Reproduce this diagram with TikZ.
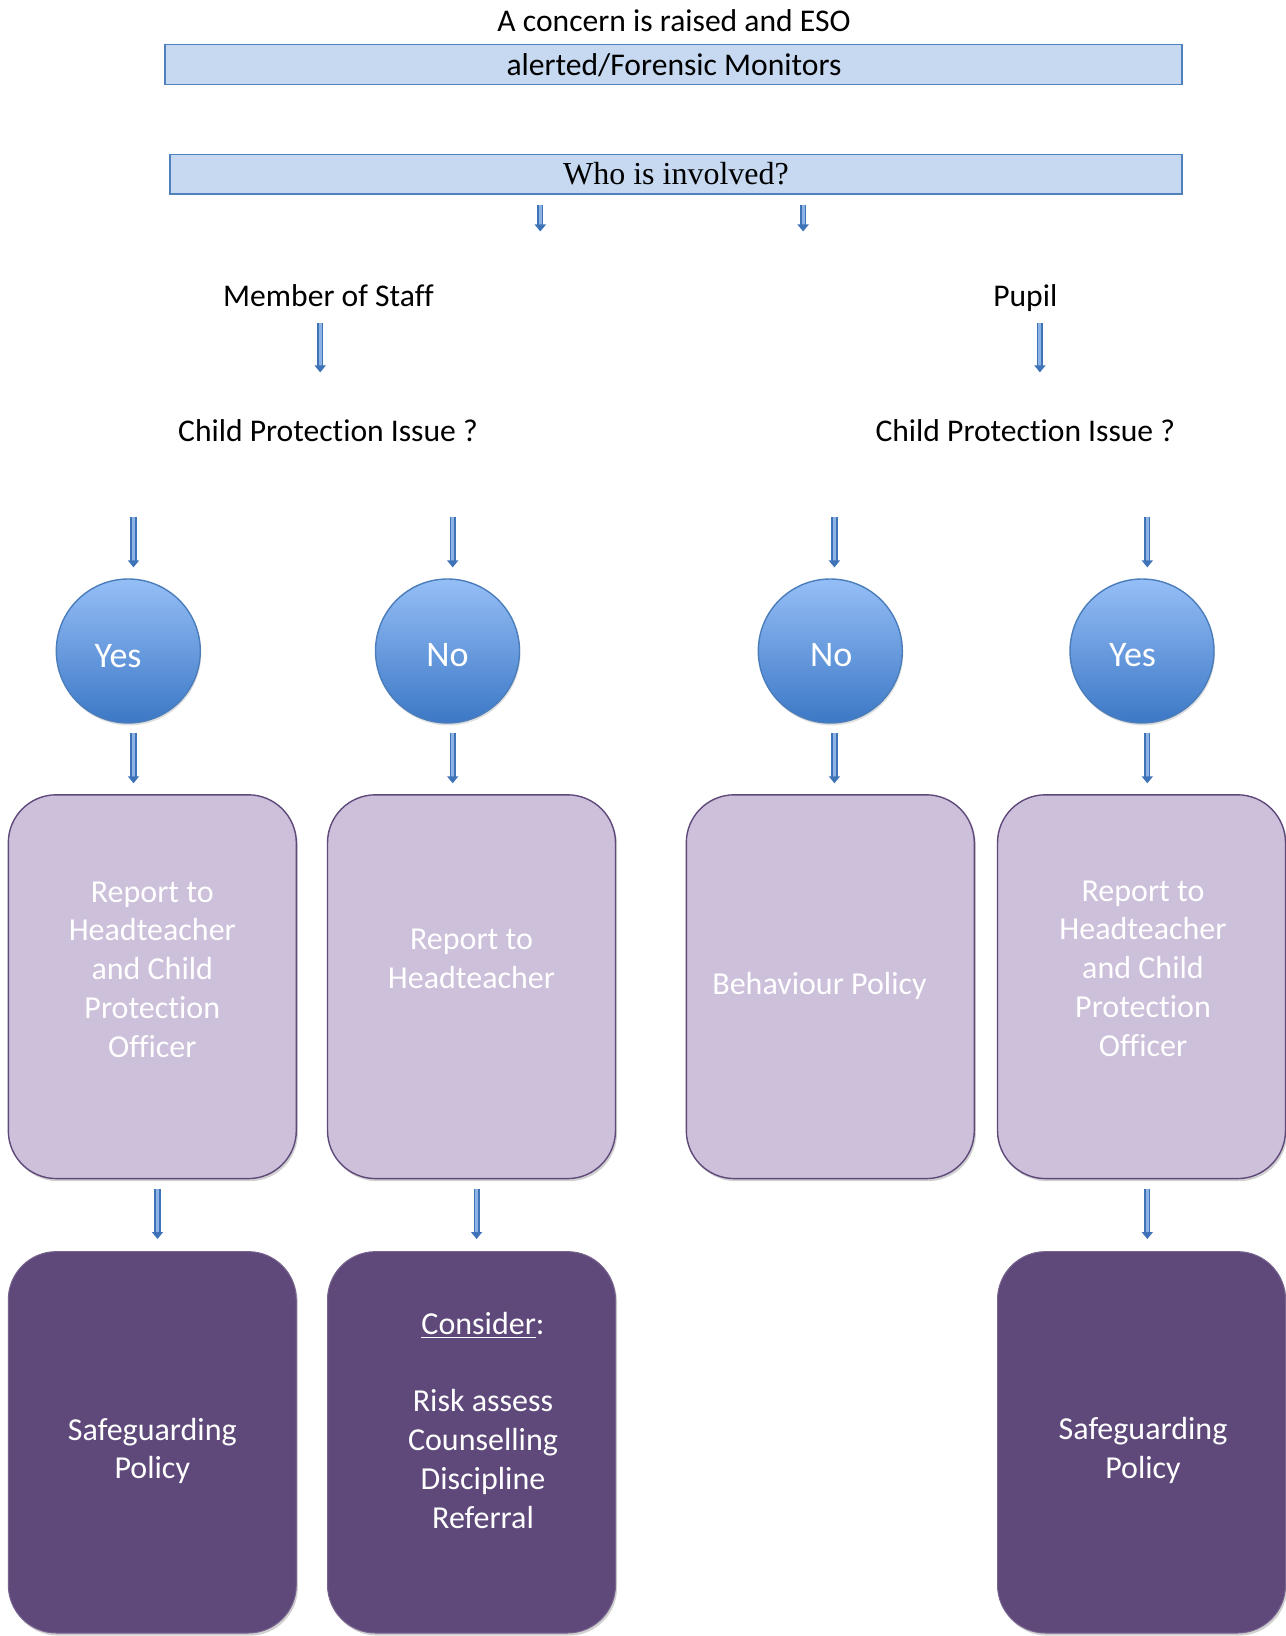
\documentclass[tikz,border=0pt]{standalone}
\usepackage{fontspec}
\setmainfont[Ligatures={NoCommon}]{Carlito}
\newfontfamily\timesf{Liberation Serif}
\usetikzlibrary{arrows.meta,shadows}
\definecolor{boxblue}{HTML}{C6D9F1}
\definecolor{lineblue}{HTML}{4F81BD}
\definecolor{lightpurple}{HTML}{CCC0DA}
\definecolor{purpleline}{HTML}{5F497A}
\definecolor{darkpurple}{HTML}{5F497A}
\definecolor{circtop}{HTML}{95BEF6}
\definecolor{circbot}{HTML}{3C78C6}
\definecolor{circline}{HTML}{4A7DBA}
\definecolor{arrdark}{HTML}{3F73B8}
\definecolor{arrlight}{HTML}{8DB3E6}
\newcommand\vflow[4]{\coordinate (#1s) at (#2,#3); \coordinate (#1e) at (#2,#4); \draw[barr] (#1s) -- (#1e);}
\begin{document}
\begin{tikzpicture}[x=0.5pt,y=-0.5pt,
  every node/.style={inner sep=0pt, outer sep=0pt},
  topbox/.style={draw=lineblue, line width=0.7pt, fill=boxblue, minimum height=19.9pt},
  plain/.style={font=\fontsize{15.8}{19.3}\selectfont, text=black, text height=11.5pt, text depth=3.3pt},
  lightbox/.style={draw=purpleline, line width=0.7pt, fill=lightpurple, rounded corners=24pt,
     minimum width=144pt, minimum height=191.9pt,
     drop shadow={shadow xshift=0.8pt, shadow yshift=-1.3pt, opacity=0.3, fill=black!60}},
  darkbox/.style={draw=darkpurple!85!white, line width=0.5pt, fill=darkpurple, rounded corners=24pt,
     minimum width=144pt, minimum height=190.7pt,
     drop shadow={shadow xshift=0.8pt, shadow yshift=-1.3pt, opacity=0.3, fill=black!60}},
  boxtext/.style={font=\fontsize{16}{19.4}\selectfont, text=white, align=center},
  circ/.style={circle, draw=circline, line width=0.7pt, top color=circtop, bottom color=circbot,
     minimum size=72pt,
     drop shadow={shadow xshift=0.5pt, shadow yshift=-1.2pt, opacity=0.25, fill=black!50}},
  circtext/.style={font=\fontsize{18}{20}\selectfont, text=white},
  barr/.style={draw=arrdark, line width=0.8pt, double=arrlight, double distance=1.5pt,
     -{Triangle[length=3.5pt,width=5.5pt]}}
]
\useasboundingbox (0,0) rectangle (1285,1636);

% top
\node[plain] (title) at (674,23) {A concern is raised and ESO};
\node[topbox, minimum width=508.5pt] (boxA) at (673.3,64.7) {};
\node[plain] (boxAt) at (674,67) {alerted/Forensic Monitors};
\node[topbox, minimum width=505.9pt] (boxB) at (675.9,174.2) {};
\node[font=\timesf\fontsize{16}{19}\selectfont] (boxBt) at (676,174) {Who is involved?};

\vflow{a1}{540.3}{205.5}{231.5}
\vflow{a2}{803.1}{205.5}{231.5}

\node[plain] (staff) at (328.5,298) {Member of Staff};
\node[plain] (pupil) at (1025.3,298) {Pupil};

\vflow{a3}{320.2}{323.3}{372.4}
\vflow{a4}{1039.9}{323.3}{372.4}

\node[plain] (cpiL) at (328,433) {Child Protection Issue ?};
\node[plain] (cpiR) at (1025.3,433) {Child Protection Issue ?};

\vflow{a5}{133.5}{517.3}{567.4}
\vflow{a6}{452.7}{517.3}{567.4}
\vflow{a7}{834.4}{517.3}{567.4}
\vflow{a8}{1147.3}{517.3}{567.4}

% circles
\node[circ] (c1) at (128.3,651) {};
\node[circ] (c2) at (447.5,651) {};
\node[circ] (c3) at (830.3,651) {};
\node[circ] (c4) at (1142,651) {};
\node[circtext] (c1t) at (118,656) {Yes};
\node[circtext] (c2t) at (447.5,655) {No};
\node[circtext] (c3t) at (831.3,655) {No};
\node[circtext] (c4t) at (1132.5,655) {Yes};

\vflow{a9}{133.5}{733.2}{783.3}
\vflow{a10}{452.7}{733.2}{783.3}
\vflow{a11}{834.4}{733.2}{783.3}
\vflow{a12}{1147.3}{733.2}{783.3}

% light boxes
\node[lightbox] (l1) at (152.3,986.7) {};
\node[lightbox] (l2) at (471.5,986.7) {};
\node[lightbox] (l3) at (830.3,986.7) {};
\node[lightbox] (l4) at (1141.5,986.7) {};
\node[boxtext] (l1t) at (152.3,969.5) {Report to\\Headteacher\\and Child\\Protection\\Officer};
\node[boxtext] (l2t) at (471.5,958.5) {Report to\\Headteacher};
\node[boxtext] (l3t) at (819.5,985.5) {Behaviour Policy};
\node[boxtext] (l4t) at (1143,968.5) {Report to\\Headteacher\\and Child\\Protection\\Officer};

\vflow{a13}{157.5}{1189}{1239}
\vflow{a14}{476.6}{1189}{1239}
\vflow{a15}{1147.3}{1189}{1239}

% dark boxes
\node[darkbox] (d1) at (152.3,1442.3) {};
\node[darkbox] (d2) at (471.5,1442.3) {};
\node[darkbox] (d4) at (1141.5,1442.3) {};
\node[boxtext] (d1t) at (152.3,1451) {Safeguarding\\Policy};
\node[boxtext] (d2t) at (483,1420) {\underline{Consider}:\\[19.4pt]Risk assess\\Counselling\\Discipline\\Referral};
\node[boxtext] (d4t) at (1143,1450.5) {Safeguarding\\Policy};
\end{tikzpicture}
\end{document}
